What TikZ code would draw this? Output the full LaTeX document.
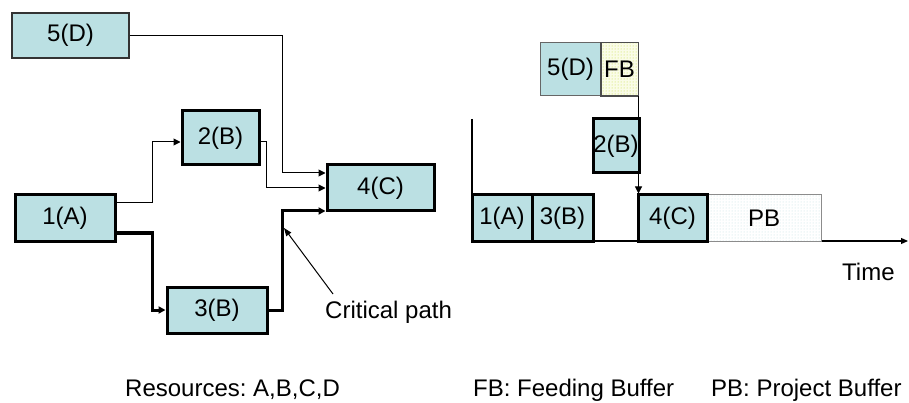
\documentclass[tikz,border=0pt]{standalone}
\usepackage{fontspec}
\setmainfont{Liberation Sans}
\usetikzlibrary{arrows.meta,patterns}
\definecolor{boxfill}{HTML}{BBE0E3}
\definecolor{fbfill}{HTML}{FAFCE8}
\definecolor{fbdot}{HTML}{C4DA3A}
\definecolor{pbdot}{HTML}{C2DFE2}
\frenchspacing
\begin{document}
\begin{tikzpicture}[x=1pt,y=-1pt,
  lbl/.style={font=\fontsize{24}{28}\selectfont, inner sep=0pt},
  task/.style={lbl, draw=black, line width=3pt, fill=boxfill},
  thintask/.style={lbl, draw=black!80, line width=1.2pt, fill=boxfill},
  graytask/.style={lbl, draw=black!60, line width=1pt, fill=boxfill},
  tip/.style={-{Triangle[length=7pt,width=7pt]}},
  thinconn/.style={tip, line width=1pt},
  thickconn/.style={tip, line width=3pt},
]
\useasboundingbox (0,0) rectangle (909,403);

% ---------- left: network ----------
\node[thintask, minimum width=117pt, minimum height=45pt] (n5) at (70.5,35.5) {5(D)};
\node[task, minimum width=77pt, minimum height=54pt] (n2) at (220.5,138) {2(B)};
\node[task, minimum width=107pt, minimum height=46pt] (n4) at (380.5,188) {4(C)};
\node[task, minimum width=100pt, minimum height=46pt] (n1) at (65,218) {1(A)};
\node[task, minimum width=100pt, minimum height=46pt] (n3) at (217,310) {3(B)};

\coordinate (k5) at (282,173);
\coordinate (k1a) at (152,203);
\coordinate (k1b) at (152,142);
\coordinate (k2) at (266,188);
\coordinate (k1c) at (152,233);
\coordinate (k3) at (282,211);

\draw[thinconn] (n5.east) -| (k5) -- (k5 -| n4.west);
\draw[thinconn] (k1a -| n1.east) -- (k1a) -- (k1b) -- (k1b -| n2.west);
\draw[thinconn] (n2.east |- k1b) -| (k2) -- (k2 -| n4.west);
\draw[thickconn] (k1c -| n1.east) -| (k1c |- n3.west) -- (n3.west);
\draw[thickconn] (n3.east) -| (k3) -- (k3 -| n4.west);

\node[lbl, anchor=base west] (cp) at (325,318) {Critical path};
\coordinate (cpfrom) at (333,294);
\coordinate (cpto) at (284,228);
\draw[-{Triangle[length=8pt,width=6pt]}, line width=1pt] (cpfrom) -- (cpto);

% ---------- right: schedule ----------
\coordinate (ytop) at (472,119);
\coordinate (orig) at (472,241);
\coordinate (tend) at (908,241);
\draw[line width=1.2pt] (ytop) -- (orig);
\draw[line width=1.2pt, -{Triangle[length=7pt,width=6pt]}] (orig) -- (tend);

\node[graytask, minimum width=61pt, minimum height=53pt] (r5) at (570.5,69.5) {5(D)};
\node[lbl, draw=black!70, line width=1pt, fill=fbfill, minimum width=37pt, minimum height=53pt] (rfb) at (619.5,69.5) {};
\fill[pattern=dots, pattern color=fbdot] (rfb.south west) rectangle (rfb.north east);
\draw[black!70, line width=1pt] (rfb.south west) rectangle (rfb.north east);
\node[lbl] at (rfb) {FB};

\node[lbl, draw=black!45, line width=1pt, fill=white, minimum width=114pt, minimum height=46pt] (rpb) at (764,218) {};
\fill[pattern=dots, pattern color=pbdot] (rpb.south west) rectangle (rpb.north east);
\draw[black!45, line width=1pt] (rpb.south west) rectangle (rpb.north east);
\node[lbl] at (rpb) {PB};

\node[task, minimum width=60pt, minimum height=46pt] (r1) at (502,218) {1(A)};
\node[task, minimum width=61pt, minimum height=46pt] (r3) at (562.5,218) {3(B)};
\node[task, minimum width=69pt, minimum height=46pt] (r4) at (672.5,218) {4(C)};
\node[task, minimum width=46pt, minimum height=54pt] (r2) at (616,146) {2(B)};

\draw[thinconn] (rfb.south east) -- (rfb.south east |- r4.north);

\node[lbl, anchor=base west] (time) at (842,280) {Time};

% ---------- bottom legend ----------
\node[lbl, anchor=base west] (res) at (125,396) {Resources: A,B,C,D};
\node[lbl, anchor=base west] (fbl) at (473,396) {FB: Feeding Buffer};
\node[lbl, anchor=base west] (pbl) at (711,396) {PB: Project Buffer};
\end{tikzpicture}
\end{document}
